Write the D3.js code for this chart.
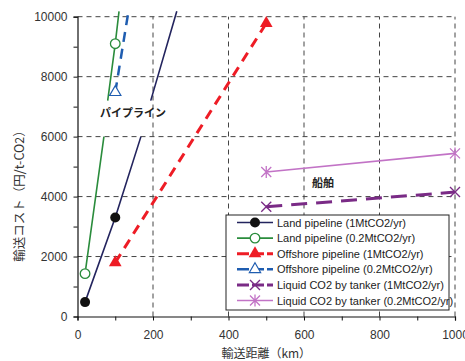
<!DOCTYPE html>
<html>
<head>
<meta charset="utf-8">
<script src="https://cdn.jsdelivr.net/npm/d3@7"></script>
<style>
  body { margin: 0; background: #fff; }
  svg { font-family: "Liberation Sans", Arial, "Noto Sans CJK JP", sans-serif; }
</style>
</head>
<body>
<div id="chart"></div>
<script>
// series values [distance km, cost yen/t-CO2]; null = gap in the line
const landPipe1 = [[20, 480], [100, 3300], [168, 6000], null, [194, 7200], [263, 10180]];
const landPipe1Marks = [[20, 480], [100, 3300]];
const landPipe02 = [[20, 1430], [70, 6000], null, [80, 7200], [100, 9100], [110, 10180]];
const landPipe02Marks = [[20, 1430], [100, 9100]];
const offPipe1 = [[100, 1800], [500, 9780]];
const offPipe02 = [[100, 7480], [135, 10180]];
const offPipe02Marks = [[100, 7480]];
const tanker1 = [[500, 3660], [1000, 4150]];
const tanker02 = [[500, 4820], [1000, 5440]];

const xTicks = [0, 200, 400, 600, 800, 1000];
const yTicks = [0, 2000, 4000, 6000, 8000, 10000];
const legendLabels = [
  'Land pipeline (1MtCO2/yr)',
  'Land pipeline (0.2MtCO2/yr)',
  'Offshore pipeline (1MtCO2/yr)',
  'Offshore pipeline (0.2MtCO2/yr)',
  'Liquid CO2 by tanker (1MtCO2/yr)',
  'Liquid CO2 by tanker (0.2MtCO2/yr)'
];

const width = 465, height = 361;
const svg = d3.select('#chart').append('svg')
  .attr('width', width).attr('height', height);

const x = d3.scaleLinear().domain([0, 1000]).range([77.5, 455]);
const y = d3.scaleLinear().domain([0, 10000]).range([316.5, 16.7]);

// grid
const grid = svg.append('g').attr('class', 'grid')
  .attr('stroke', '#444').attr('stroke-width', 1).attr('stroke-dasharray', '5,4');
grid.selectAll('.gx').data(xTicks.slice(1)).enter().append('line')
  .attr('x1', d => x(d)).attr('x2', d => x(d))
  .attr('y1', y(0)).attr('y2', y(10000));
grid.selectAll('.gy').data(yTicks.slice(1)).enter().append('line')
  .attr('x1', x(0)).attr('x2', x(1000))
  .attr('y1', d => y(d)).attr('y2', d => y(d));

// axes
const xAxis = svg.append('g')
  .attr('transform', `translate(0, ${y(0)})`)
  .call(d3.axisBottom(x).tickValues(d3.range(0, 1001, 100)).tickSize(4)
    .tickFormat(d => xTicks.includes(d) ? d : ''));
const yAxis = svg.append('g')
  .attr('transform', `translate(${x(0)}, 0)`)
  .call(d3.axisLeft(y).tickValues(d3.range(0, 10001, 1000)).tickSize(4)
    .tickFormat(d => yTicks.includes(d) ? d : ''));
[xAxis, yAxis].forEach(a => {
  a.select('.domain').attr('stroke', '#111').attr('stroke-width', 1.2);
  a.selectAll('.tick line').attr('stroke', '#111');
  a.selectAll('.tick text').attr('fill', '#333').style('font-size', '12px')
    .style('font-family', '"Liberation Sans", Arial, sans-serif');
});
xAxis.selectAll('.tick text').attr('dy', '1.3em');
yAxis.selectAll('.tick text').attr('x', -10);

// axis titles
svg.append('text')
  .attr('x', x(500)).attr('y', 358)
  .attr('text-anchor', 'middle').attr('fill', '#333')
  .style('font-size', '12px').style('font-family', '"Noto Sans CJK JP", sans-serif')
  .text('輸送距離（km）');
svg.append('text')
  .attr('transform', 'translate(24, 193) rotate(-90)')
  .attr('text-anchor', 'middle').attr('fill', '#333')
  .style('font-size', '12.5px').style('font-family', '"Noto Sans CJK JP", sans-serif')
  .text('輸送コスト（円/t-CO2）');

// series
const line = d3.line().defined(d => d !== null).x(d => x(d[0])).y(d => y(d[1]));
const series = [
  { data: landPipe1, color: '#23245e', w: 1.6, dash: null },
  { data: landPipe02, color: '#2a8c3c', w: 1.6, dash: null },
  { data: offPipe1, color: '#ee1c25', w: 3, dash: '10,7' },
  { data: offPipe02, color: '#1f5db0', w: 2.5, dash: '10,7' },
  { data: tanker1, color: '#7a2b86', w: 3, dash: '16,9' },
  { data: tanker02, color: '#c273c6', w: 1.6, dash: null }
];
svg.append('g').selectAll('path').data(series).enter().append('path')
  .attr('d', d => line(d.data))
  .attr('fill', 'none')
  .attr('stroke', d => d.color)
  .attr('stroke-width', d => d.w)
  .attr('stroke-dasharray', d => d.dash);

// markers
function drawMarker(g, type, color) {
  if (type === 'dot') {
    g.append('circle').attr('r', 5).attr('fill', '#111');
  } else if (type === 'ring') {
    g.append('circle').attr('r', 4.8).attr('fill', '#fff').attr('stroke', color).attr('stroke-width', 1.3);
  } else if (type === 'tri') {
    g.append('path').attr('d', d3.symbol(d3.symbolTriangle, 70)()).attr('fill', color);
  } else if (type === 'otri') {
    g.append('path').attr('d', d3.symbol(d3.symbolTriangle, 55)())
      .attr('fill', '#fff').attr('stroke', color).attr('stroke-width', 1.2);
  } else if (type === 'x') {
    g.append('path').attr('d', 'M-5,-5L5,5M-5,5L5,-5').attr('stroke', color).attr('stroke-width', 1.4);
  } else if (type === 'star') {
    g.append('path').attr('d', 'M-5,-5L5,5M-5,5L5,-5M0,-6L0,6')
      .attr('stroke', color).attr('stroke-width', 1.3);
  }
}
const markerSets = [
  { data: landPipe1Marks, type: 'dot', color: '#111' },
  { data: landPipe02Marks, type: 'ring', color: '#2a8c3c' },
  { data: offPipe1, type: 'tri', color: '#ee1c25' },
  { data: offPipe02Marks, type: 'otri', color: '#1f5db0' },
  { data: tanker1, type: 'x', color: '#7a2b86' },
  { data: tanker02, type: 'star', color: '#c273c6' }
];
markerSets.forEach(s => {
  s.data.forEach(p => {
    const g = svg.append('g').attr('transform', `translate(${x(p[0])}, ${y(p[1])})`);
    drawMarker(g, s.type, s.color);
  });
});

// annotations
svg.append('text').attr('x', 133).attr('y', 117).attr('text-anchor', 'middle')
  .attr('fill', '#222').style('font-size', '11px').style('font-weight', 'bold')
  .style('font-family', '"Noto Sans CJK JP", sans-serif').text('パイプライン');
svg.append('text').attr('x', 323).attr('y', 187).attr('text-anchor', 'middle')
  .attr('fill', '#222').style('font-size', '11px').style('font-weight', 'bold')
  .style('font-family', '"Noto Sans CJK JP", sans-serif').text('船舶');

// legend
const legend = svg.append('g');
legend.append('rect').attr('x', 226).attr('y', 215).attr('width', 223).attr('height', 95)
  .attr('fill', '#fff').attr('stroke', '#222').attr('stroke-width', 1);
legendLabels.forEach((label, i) => {
  const ly = 222.5 + i * 15.6;
  const s = series[i];
  legend.append('line').attr('x1', 237).attr('x2', 273).attr('y1', ly).attr('y2', ly)
    .attr('stroke', s.color).attr('stroke-width', s.w)
    .attr('stroke-dasharray', s.dash ? '12,3' : null);
  drawMarker(legend.append('g').attr('transform', `translate(255, ${ly})`),
    markerSets[i].type, markerSets[i].color);
  legend.append('text').attr('x', 277).attr('y', ly + 4)
    .attr('fill', '#222').style('font-size', '11px').text(label);
});
</script>
</body>
</html>
